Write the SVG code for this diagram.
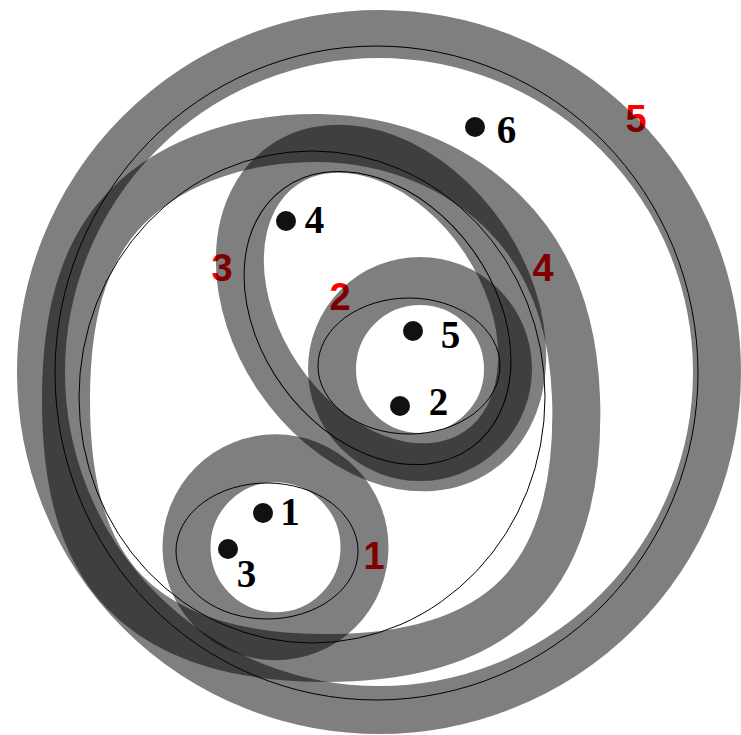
<svg xmlns="http://www.w3.org/2000/svg" width="741" height="735" viewBox="0 0 741 735">
<style>
.band{fill:none;stroke:#000;stroke-opacity:0.5;stroke-width:48}
.outline{fill:none;stroke:#000;stroke-width:1}
.setlabel{font-family:"Liberation Sans",Arial,sans-serif;font-weight:bold;font-size:38px;fill:#ff0000;text-anchor:middle}
.dot{fill:#111}
.item{font-family:"Liberation Serif","Times New Roman",serif;font-weight:bold;font-size:39px;fill:#000;text-anchor:middle}
</style>
<rect width="741" height="735" fill="#fff"/>
<g id="set5">
<text class="setlabel" x="636" y="132">5</text>
<circle class="band" cx="379" cy="372" r="338"/>
<ellipse class="outline" cx="376.5" cy="373" rx="321.5" ry="327"/>
</g>
<g id="set4">
<text class="setlabel" x="543" y="281">4</text>
<path class="band" d="M320,138 C390.8,139.6 456.6,165 504.6,213.4 C552.6,261.15 573.4,325.1 576,397 C578.6,468.9 566.7,546.8 518.7,595.7 C470.7,644.6 393.9,658.7 320,658 C246.1,657.3 172.4,641.1 124.8,592.2 C77.2,543.3 65.6,469.8 66,397 C66.4,324.2 79.4,254 128,206 C176,158 250,137 320,138 Z"/>
<ellipse class="outline" cx="312" cy="397" rx="233" ry="246"/>
</g>
<g id="set3">
<text class="setlabel" x="222" y="281">3</text>
<ellipse class="band" cx="381" cy="308" rx="173" ry="124" transform="rotate(56 381 308)"/>
<ellipse class="outline" cx="377.5" cy="318" rx="160" ry="117" transform="rotate(54 377.5 318)"/>
</g>
<g id="set2">
<text class="setlabel" x="340" y="310">2</text>
<circle class="band" cx="420" cy="369" r="88"/>
<ellipse class="outline" cx="409" cy="366" rx="91" ry="68"/>
</g>
<g id="set1">
<text class="setlabel" x="374" y="569">1</text>
<circle class="band" cx="275.5" cy="547.3" r="89"/>
<ellipse class="outline" cx="267" cy="551" rx="91" ry="68"/>
</g>
<g id="item6"><circle class="dot" cx="475" cy="127" r="10"/><text class="item" x="506.5" y="143">6</text></g>
<g id="item4"><circle class="dot" cx="286" cy="221" r="10"/><text class="item" x="314.5" y="233">4</text></g>
<g id="item5"><circle class="dot" cx="413" cy="331" r="10"/><text class="item" x="450.5" y="348">5</text></g>
<g id="item2"><circle class="dot" cx="400" cy="406" r="10"/><text class="item" x="438.5" y="415">2</text></g>
<g id="item1"><circle class="dot" cx="263" cy="513" r="10"/><text class="item" x="290" y="525">1</text></g>
<g id="item3"><circle class="dot" cx="228" cy="549" r="10"/><text class="item" x="246.5" y="587">3</text></g>
</svg>
